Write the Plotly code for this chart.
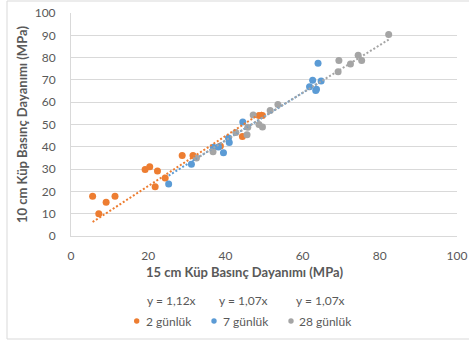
import plotly.graph_objects as go
import numpy as np

# ---- data ----
d2_x = [5.6, 7.2, 9.1, 11.4, 19.2, 20.4, 22.4, 21.8, 24.4, 28.8, 31.6, 38.7, 44.4, 48.7, 49.6]
d2_y = [17.8, 10.0, 15.1, 17.8, 29.8, 31.1, 29.2, 22.1, 26.0, 36.1, 36.1, 40.4, 44.6, 54.0, 54.0]

d7_x = [25.3, 31.2, 36.9, 38.2, 39.5, 40.8, 41.0, 44.5, 61.8, 62.6, 63.4, 63.6, 64.0, 64.8]
d7_y = [23.3, 32.2, 39.8, 39.9, 37.3, 43.9, 41.9, 51.1, 66.9, 69.8, 65.3, 65.8, 77.5, 69.5]

d28_x = [32.5, 36.8, 42.7, 45.6, 45.8, 47.2, 48.7, 49.6, 51.6, 53.6, 69.2, 69.4, 72.4, 74.4, 75.3, 82.3]
d28_y = [35.0, 37.8, 46.4, 45.4, 48.8, 54.3, 50.0, 48.9, 56.3, 59.0, 73.6, 78.7, 77.1, 81.0, 78.7, 90.4]

series_names = ["2 günlük", "7 günlük", "28 günlük"]
slopes = [1.12, 1.07, 1.07]
equation_labels = ["y = 1,12x", "y = 1,07x", "y = 1,07x"]
tick_vals = [0, 10, 20, 30, 40, 50, 60, 70, 80, 90, 100]
x_tick_vals = [0, 20, 40, 60, 80, 100]
x_title = "15 cm Küp Basınç Dayanımı (MPa)"
y_title = "10 cm Küp Basınç Dayanımı (MPa)"

colors = ["#ED7D31", "#5B9BD5", "#A5A5A5"]
FONT = "Lato"
TXT = "#595959"

W, H = 469, 341
ML, MR, MT, MB = 71, 12, 13, 105
PW, PH = W - ML - MR, H - MT - MB


def fx(px):
    return (px - ML) / PW


def fy(py):
    return (MT + PH - py) / PH


fig = go.Figure()
data = [(d2_x, d2_y), (d7_x, d7_y), (d28_x, d28_y)]
for (xs, ys), c, n in zip(data, colors, series_names):
    fig.add_trace(go.Scatter(x=xs, y=ys, mode="markers", name=n,
                             marker=dict(color=c, size=7, line=dict(width=0)),
                             showlegend=False, cliponaxis=False))
for (xs, ys), c, s, n in zip(data, colors, slopes, series_names):
    xa = np.array([min(xs), max(xs)])
    fig.add_trace(go.Scatter(x=xa, y=s * xa, mode="lines", name=n + " trend",
                             line=dict(color=c, width=2, dash="2px,2px"),
                             showlegend=False, hoverinfo="skip"))

annotations = []
# axis titles
annotations.append(dict(text=f"<b>{x_title}</b>", x=fx(244), y=fy(272), xref="paper", yref="paper",
                        showarrow=False, xanchor="center", yanchor="middle",
                        font=dict(family=FONT, size=13, color=TXT)))
annotations.append(dict(text=f"<b>{y_title}</b>", x=fx(22), y=fy(125), xref="paper", yref="paper",
                        showarrow=False, xanchor="center", yanchor="middle", textangle=-90,
                        font=dict(family=FONT, size=13, color=TXT)))
# equations
for lab, cx in zip(equation_labels, [171.5, 243.5, 320.5]):
    annotations.append(dict(text=lab, x=fx(cx), y=fy(300), xref="paper", yref="paper",
                            showarrow=False, xanchor="center", yanchor="middle",
                            font=dict(family=FONT, size=12, color=TXT)))
# legend
shapes = []
for n, c, dx, tx in zip(series_names, colors, [136.7, 214, 291], [144, 221, 297]):
    shapes.append(dict(type="circle", xref="paper", yref="paper", xsizemode="pixel", ysizemode="pixel",
                       xanchor=fx(dx), yanchor=fy(321), x0=-2.7, x1=2.7, y0=-2.7, y1=2.7,
                       fillcolor=c, line=dict(width=0)))
    annotations.append(dict(text=n, x=fx(tx), y=fy(321), xref="paper", yref="paper",
                            showarrow=False, xanchor="left", yanchor="middle",
                            font=dict(family=FONT, size=12, color=TXT)))
# chart border
shapes.append(dict(type="rect", xref="paper", yref="paper",
                   x0=fx(7), x1=fx(480), y0=fy(339), y1=fy(1),
                   line=dict(color="#D9D9D9", width=1), fillcolor="rgba(0,0,0,0)", layer="below"))

fig.update_layout(
    width=W, height=H, autosize=False,
    margin=dict(l=ML, r=MR, t=MT, b=MB, pad=0, autoexpand=False),
    paper_bgcolor="white", plot_bgcolor="white",
    showlegend=False,
    annotations=annotations, shapes=shapes,
    xaxis=dict(range=[0, 100], tickvals=x_tick_vals, showgrid=False, zeroline=False,
               showline=True, linecolor="#D9D9D9", linewidth=1, automargin=False,
               tickfont=dict(family=FONT, size=12, color=TXT), ticks="", ticklabelstandoff=9,
               fixedrange=True),
    yaxis=dict(range=[0, 100], tickvals=tick_vals, showgrid=True, gridcolor="#D9D9D9", gridwidth=1,
               zeroline=False, showline=True, linecolor="#D9D9D9", linewidth=1, automargin=False,
               tickfont=dict(family=FONT, size=12, color=TXT), ticks="", ticklabelstandoff=12,
               fixedrange=True),
)

fig.write_html("out.html",
               post_script="document.body.style.margin='0';document.body.style.padding='0';")
